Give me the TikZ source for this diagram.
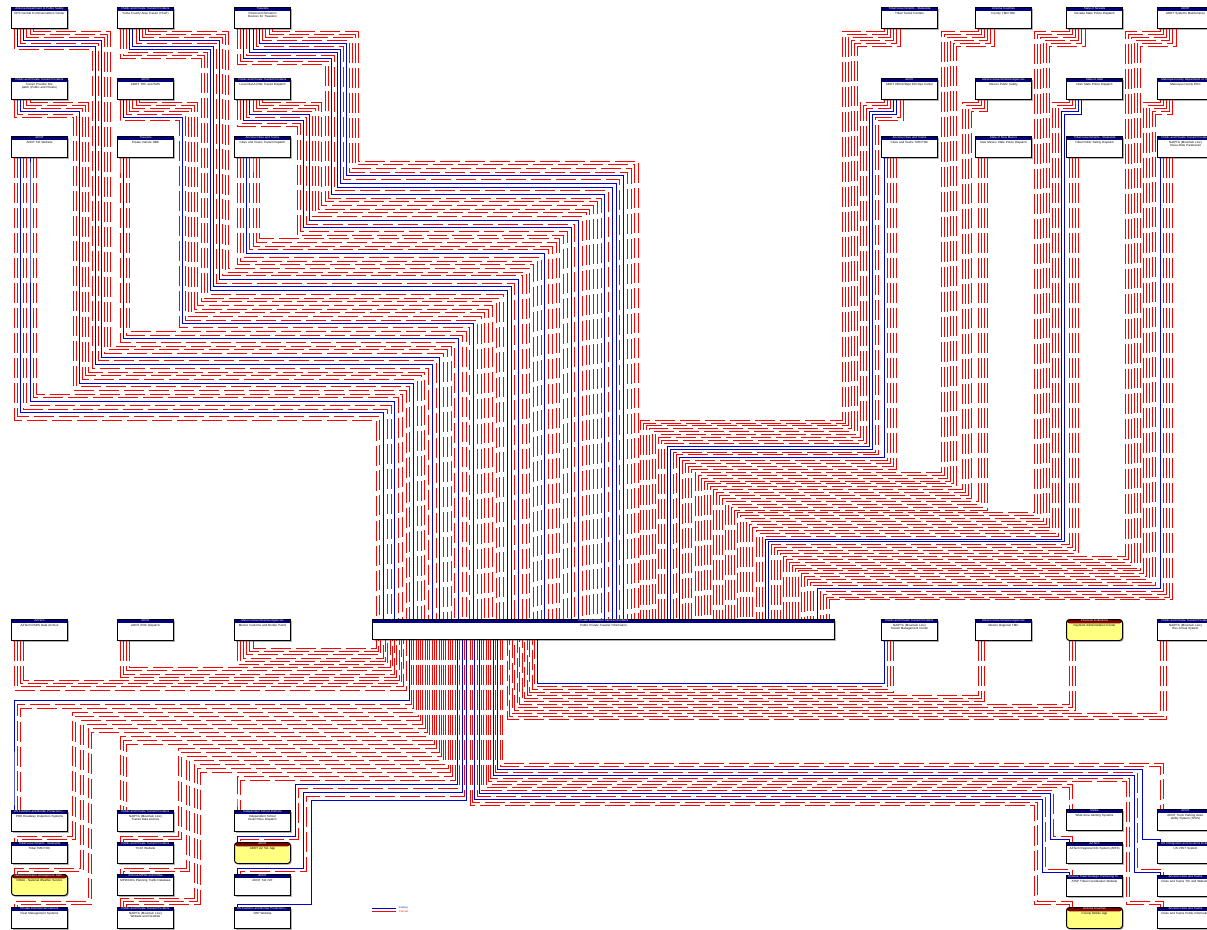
\documentclass[tikz,border=0pt]{standalone}
\usepackage{fontspec}
\setmainfont{Liberation Sans}
\usetikzlibrary{shadows,calc}
\definecolor{hdrblue}{RGB}{0,0,128}
\definecolor{hdrred}{RGB}{128,0,0}
\definecolor{sysyellow}{RGB}{255,255,128}
\definecolor{flowblue}{RGB}{0,0,204}
\definecolor{flowred}{RGB}{255,0,0}
\tikzset{
  fb/.style={draw=flowblue, line width=0.8pt},
  fr/.style={draw=flowred, line width=0.8pt, dash pattern=on 20pt off 5pt},
  sysb/.style={draw=black, line width=1pt, fill=white, minimum width=56pt, minimum height=21pt, inner sep=0pt,
    general shadow={fill=black!30, shadow xshift=1.2pt, shadow yshift=-1.2pt},
    path picture={\fill[hdrblue] (path picture bounding box.north west) rectangle ([yshift=-3.8pt]path picture bounding box.north east);}},
  ysysb/.style={sysb, rounded corners=3pt, fill=sysyellow,
    path picture={\fill[hdrred] (path picture bounding box.north west) rectangle ([yshift=-3.8pt]path picture bounding box.north east);}},
  hdrtxt/.style={inner sep=0pt, text=white, font=\fontsize{3}{3.4}\selectfont},
  bodytxt/.style={anchor=north, inner sep=0pt, text width=53pt, align=center, font=\fontsize{3}{3.5}\selectfont},
  lgtxt/.style={anchor=west, inner sep=0pt, font=\fontsize{2.4}{2.6}\selectfont}
}
\newcommand\sysbox[6][sysb]{%
  \node[#1, anchor=north west] (#2) at (#3,#4) {};
  \node[hdrtxt] (#2-h) at ([yshift=-1.9pt]#2.north) {#5};
  \node[bodytxt] (#2-b) at ([yshift=-4.7pt]#2.north) {#6};
}
% top-left group
\newcommand\TLf[7]{%
 \foreach \j/\st in {#7}{%
  \pgfmathsetmacro\fxs{3+3.2*\j}%
  \pgfmathsetmacro\fxa{#2+\fxs}%
  \pgfmathsetmacro\fyone{#3+3+3*(#4-1-\j)}%
  \pgfmathsetmacro\ftx{(#5<0) ? \fxa : #5+3*\j}%
  \pgfmathsetmacro\fg{#6+\j}%
  \pgfmathsetmacro\flev{420-3.7*\fg}%
  \pgfmathsetmacro\fdd{4+3.75*\fg}%
  \draw[\st] ([xshift=\fxs pt]#1.south west) |- (\ftx,\fyone) |- (372+\fdd,\flev) -- ([xshift=\fdd pt]C.north west);
 }}
% top-right group
\newcommand\TRf[7]{%
 \foreach \j/\st in {#7}{%
  \pgfmathsetmacro\fxs{3+3.2*\j}%
  \pgfmathsetmacro\fxa{#2+\fxs}%
  \pgfmathsetmacro\fyone{#3+3+3*\j}%
  \pgfmathsetmacro\ftx{(#5<0) ? \fxa : #5+3*\j}%
  \pgfmathsetmacro\fg{#6+\j}%
  \pgfmathsetmacro\flev{420+2.9*\fg}%
  \pgfmathsetmacro\fdd{268+3.05*\fg}%
  \draw[\st] ([xshift=\fxs pt]#1.south west) |- (\ftx,\fyone) |- (372+\fdd,\flev) -- ([xshift=\fdd pt]C.north west);
 }}
% middle-left group
\newcommand\MLf[3]{%
 \foreach \j/\st in {#3}{%
  \pgfmathsetmacro\fxs{3+3.2*\j}%
  \pgfmathsetmacro\fg{#2+\j}%
  \pgfmathsetmacro\flev{690-3.2*\fg}%
  \pgfmathsetmacro\fdd{34-2.3*\fg}%
  \draw[\st] ([xshift=\fxs pt]#1.south west) |- (372+\fdd,\flev) -- ([xshift=\fdd pt]C.south west);
 }}
% middle-right group
\newcommand\MRf[3]{%
 \foreach \j/\st in {#3}{%
  \pgfmathsetmacro\fxs{3+3.2*\j}%
  \pgfmathsetmacro\fg{#2+\j}%
  \pgfmathsetmacro\flev{683+3*\fg}%
  \pgfmathsetmacro\fdd{165-2.5*\fg}%
  \draw[\st] ([xshift=\fxs pt]#1.south west) |- (372+\fdd,\flev) -- ([xshift=\fdd pt]C.south west);
 }}
% bottom-left group
\newcommand\BLf[7]{%
 \foreach \j/\st in {#7}{%
  \pgfmathsetmacro\fxs{3+3.2*\j}%
  \pgfmathsetmacro\fxa{#2+\fxs}%
  \pgfmathsetmacro\fyone{#3-3-3*(#4-1-\j)}%
  \pgfmathsetmacro\ftx{(#5<0) ? \fxa : #5+3*\j}%
  \pgfmathsetmacro\fg{#6+\j}%
  \pgfmathsetmacro\flev{700+4*\fg}%
  \pgfmathsetmacro\fdd{37+2.3*\fg}%
  \draw[\st] ([xshift=\fdd pt]C.south west) |- (\ftx,\flev) |- (\fxa,\fyone) -- ([xshift=\fxs pt]#1.north west);
 }}
% bottom-right group
\newcommand\BRf[7]{%
 \foreach \j/\st in {#7}{%
  \pgfmathsetmacro\fxs{3+3.2*\j}%
  \pgfmathsetmacro\fxa{#2+\fxs}%
  \pgfmathsetmacro\fyone{#3-3-3*\j}%
  \pgfmathsetmacro\ftx{(#5<0) ? \fxa : #5+3*\j}%
  \pgfmathsetmacro\fg{#6+\j}%
  \pgfmathsetmacro\flev{805-3*\fg}%
  \pgfmathsetmacro\fdd{98+2.3*\fg}%
  \draw[\st] ([xshift=\fdd pt]C.south west) |- (\ftx,\flev) |- (\fxa,\fyone) -- ([xshift=\fxs pt]#1.north west);
 }}
\begin{document}
\begin{tikzpicture}[x=1pt,y=-1pt]
\fill[white] (0,0) rectangle (1207,929);
\useasboundingbox (0,0) rectangle (1207,929);

% ---------- center node
\node[sysb, minimum width=462pt, minimum height=20pt, anchor=north west] (C) at (372,619) {};
\node[hdrtxt] (C-h) at ([yshift=-1.9pt]C.north) {Private Information Service Providers};
\node[bodytxt, text width=300pt] (C-b) at ([yshift=-4.7pt]C.north) {Public Private Traveler Information};

% ---------- top-left nodes
\sysbox{dps}{11}{7}{Arizona Department of Public Safety}{DPS Central Communications Center}
\sysbox{ycat}{117}{7}{Public and Private Transit Providers}{Yuma County Area Transit (YCAT)}
\sysbox{pid}{234}{7}{Travelers}{Personal Information Devices for Travelers}
\sysbox{tpd}{11}{78}{Public and Private Transit Providers}{Transit Provider Dispatch (Public and Private)}
\sysbox{toc}{117}{78}{ADOT}{ADOT TOC and EMS}
\sysbox{dar}{234}{78}{Public and Private Transit Providers}{Local Dial-A-Ride Transit Dispatch}
\sysbox{wfive}{11}{136}{ADOT}{ADOT 511 Website}
\sysbox{obe}{117}{136}{Travelers}{Private Vehicle OBE}
\sysbox{ctd}{234}{136}{Arizona Cities and Towns}{Cities and Towns Transit Dispatch}

% ---------- top-right nodes
\sysbox{ttc}{881}{7}{Tribal Governments - Statewide}{Tribal Transit Centers}
\sysbox{ctmc}{975}{7}{Arizona Counties}{County TMC/TOC}
\sysbox{nvp}{1066}{7}{State of Nevada}{Nevada State Police Dispatch}
\sysbox{asm}{1157}{7}{ADOT}{ADOT Systems Maintenance}
\sysbox{deoc}{881}{78}{ADOT}{ADOT DEOC/Dept EM Ops Center}
\sysbox{mps}{975}{78}{Mexico Governmental Agencies}{Mexico Public Safety}
\sysbox{utp}{1066}{78}{State of Utah}{Utah State Police Dispatch}
\sysbox{mceoc}{1157}{78}{Maricopa County Department of Tr...}{Maricopa County EOC}
\sysbox{cttmc}{881}{136}{Arizona Cities and Towns}{Cities and Towns TMC/TOC}
\sysbox{nmp}{975}{136}{State of New Mexico}{New Mexico State Police Dispatch}
\sysbox{tps}{1066}{136}{Tribal Governments - Statewide}{Tribal Public Safety Dispatch}
\sysbox{npara}{1157}{136}{Public and Private Transit Providers}{NAIPTA (Mountain Line) Dial-a-Ride Paratransit}

% ---------- middle row
\sysbox{rads}{11}{619}{AZTech}{AZTech RADS Data Archive}
\sysbox{eocd}{117}{619}{ADOT}{ADOT EOC Dispatch}
\sysbox{mcbp}{234}{619}{Mexico Governmental Agencies}{Mexico Customs and Border Patrol}
\sysbox{ntmc}{881}{619}{Public and Private Transit Providers}{NAIPTA (Mountain Line) Transit Management Center}
\sysbox{mrtmc}{975}{619}{Mexico Governmental Agencies}{Mexico Regional TMC}
\sysbox[ysysb]{pay}{1066}{619}{Financial Institutions}{Payment Administration Center}
\sysbox{narr}{1157}{619}{Public and Private Transit Providers}{NAIPTA (Mountain Line) Bus Arrival System}

% ---------- bottom-left nodes
\sysbox{poe}{11}{810}{US Customs and Border Protection (...}{POE Roadway Inspection Systems}
\sysbox{ttmc}{11}{842}{Tribal Governments - Statewide}{Tribal TMC/TOC}
\sysbox[ysysb]{noaa}{11}{874}{National Oceanic Atmospheric Adm...}{NOAA - National Weather Service}
\sysbox{fleet}{11}{907}{Private Commercial Carriers}{Fleet Management Systems}
\sysbox{nda}{117}{810}{Public and Private Transit Providers}{NAIPTA (Mountain Line) Transit Data Archive}
\sysbox{yweb}{117}{842}{Public and Private Transit Providers}{YCAT Website}
\sysbox{mpo}{117}{874}{Arizona MPOs and COGs}{MPO/COG Planning Traffic Database}
\sysbox{nweb}{117}{907}{Public and Private Transit Providers}{NAIPTA (Mountain Line) Website and FlexRide}
\sysbox{isd}{234}{810}{Independent School Districts}{Independent School District Bus Dispatch}
\sysbox[ysysb]{app}{234}{842}{ADOT}{ADOT AZ 511 App}
\sysbox{ivr}{234}{874}{ADOT}{ADOT 511 IVR}
\sysbox{cbp}{234}{907}{US Customs and Border Protection (...}{CBP Website}

% ---------- bottom-right nodes
\sysbox{waa}{1066}{809}{Media}{Wide Area Alerting Systems}
\sysbox{aris}{1066}{842}{AZTech}{AZTech Regional Info System (ARIS)}
\sysbox{atsp}{1066}{875}{Arizona Tribal Strategic Partnering Te...}{ATSP Tribal Coordination Website}
\sysbox[ysysb]{capp}{1066}{907}{Arizona Counties}{County Mobile App}
\sysbox{tpas}{1157}{809}{ADOT}{ADOT Truck Parking Availability System (TPAS)}
\sysbox{visit}{1157}{842}{US Immigration and Customs Enfo...}{US VISIT System}
\sysbox{ctic}{1157}{875}{Arizona Cities and Towns}{Cities and Towns TIC and Websites}
\sysbox{cpi}{1157}{907}{Arizona Cities and Towns}{Cities and Towns Public Information}

% ---------- flows: top-left
\TLf{wfive}{11}{157}{8}{-1}{0}{0/fr,1/fr,2/fb,3/fr,4/fr,5/fb,6/fr,7/fr}
\TLf{tpd}{11}{99}{6}{73}{8}{0/fr,1/fr,2/fb,3/fr,4/fr,5/fr}
\TLf{dps}{11}{28}{7}{92}{14}{0/fr,1/fb,2/fr,3/fb,4/fr,5/fr,6/fr}
\TLf{obe}{117}{157}{4}{-1}{21}{0/fr,1/fb,2/fr,3/fr}
\TLf{toc}{117}{99}{7}{179}{25}{0/fr,1/fb,2/fr,3/fr,4/fr,5/fr,6/fr}
\TLf{ycat}{117}{28}{10}{201}{32}{0/fr,1/fr,2/fr,3/fb,4/fb,5/fr,6/fb,7/fr,8/fr,9/fr}
\TLf{ctd}{234}{157}{8}{-1}{42}{0/fr,1/fr,2/fr,3/fb,4/fr,5/fr,6/fr,7/fr}
\TLf{dar}{234}{99}{9}{297}{50}{0/fr,1/fr,2/fb,3/fr,4/fb,5/fr,6/fr,7/fr,8/fr}
\TLf{pid}{234}{28}{12}{325}{59}{0/fr,1/fr,2/fb,3/fr,4/fb,5/fb,6/fr,7/fb,8/fr,9/fr,10/fr,11/fr}

% ---------- flows: top-right
\TRf{ttc}{881}{28}{6}{842}{0}{0/fr,1/fr,2/fr,3/fr,4/fr,5/fr}
\TRf{deoc}{881}{99}{7}{860}{6}{0/fr,1/fr,2/fr,3/fb,4/fb,5/fr,6/fr}
\TRf{cttmc}{881}{157}{5}{-1}{13}{0/fb,1/fr,2/fr,3/fr,4/fr}
\TRf{ctmc}{975}{28}{6}{941}{18}{0/fr,1/fr,2/fr,3/fr,4/fr,5/fr}
\TRf{mps}{975}{99}{4}{962}{24}{0/fr,1/fr,2/fr,3/fr}
\TRf{nmp}{975}{157}{4}{-1}{28}{0/fr,1/fr,2/fr,3/fr}
\TRf{nvp}{1066}{28}{6}{1034}{32}{0/fr,1/fr,2/fr,3/fr,4/fr,5/fr}
\TRf{utp}{1066}{99}{5}{1052}{38}{0/fr,1/fr,2/fr,3/fb,4/fb}
\TRf{tps}{1066}{157}{4}{-1}{43}{0/fr,1/fr,2/fr,3/fr}
\TRf{asm}{1157}{28}{6}{1125}{47}{0/fr,1/fr,2/fr,3/fr,4/fr,5/fr}
\TRf{mceoc}{1157}{99}{5}{1143}{53}{0/fr,1/fr,2/fr,3/fr,4/fr}
\TRf{npara}{1157}{157}{5}{-1}{58}{0/fb,1/fr,2/fr,3/fr,4/fr}

% ---------- flows: middle
\MLf{rads}{0}{0/fr,1/fr,2/fr,3/fr}
\MLf{eocd}{4}{0/fr,1/fr,2/fr,3/fr}
\MLf{mcbp}{8}{0/fr,1/fr,2/fr,3/fr,4/fr,5/fr}
\MRf{ntmc}{0}{0/fb,1/fr,2/fr,3/fr}
\MRf{mrtmc}{4}{0/fr,1/fr,2/fr}
\MRf{pay}{7}{0/fr,1/fr,2/fr}
\MRf{narr}{10}{0/fr,1/fr,2/fr}

% ---------- flows: bottom-left
\BLf{poe}{11}{810}{3}{-1}{0}{0/fb,1/fr,2/fr}
\BLf{ttmc}{11}{842}{2}{72}{3}{0/fr,1/fr}
\BLf{noaa}{11}{874}{2}{80}{5}{0/fr,1/fr}
\BLf{fleet}{11}{907}{2}{88}{7}{0/fr,1/fr}
\BLf{nda}{117}{810}{3}{-1}{9}{0/fr,1/fr,2/fr}
\BLf{yweb}{117}{842}{2}{178}{12}{0/fr,1/fr}
\BLf{mpo}{117}{874}{2}{186}{14}{0/fr,1/fr}
\BLf{nweb}{117}{907}{3}{194}{16}{0/fr,1/fr,2/fr}
\BLf{isd}{234}{810}{2}{-1}{19}{0/fr,1/fr}
\BLf{app}{234}{842}{2}{295}{21}{0/fb,1/fr}
\BLf{ivr}{234}{874}{2}{303}{23}{0/fb,1/fr}
\BLf{cbp}{234}{907}{1}{311}{25}{0/fb}

% ---------- flows: bottom-right
\BRf{capp}{1066}{907}{2}{1034}{0}{0/fr,1/fr}
\BRf{atsp}{1066}{875}{2}{1042}{2}{0/fb,1/fr}
\BRf{aris}{1066}{842}{2}{1050}{4}{0/fb,1/fr}
\BRf{waa}{1066}{809}{2}{-1}{6}{0/fr,1/fr}
\BRf{cpi}{1157}{907}{2}{1126}{8}{0/fr,1/fr}
\BRf{ctic}{1157}{875}{2}{1134}{10}{0/fb,1/fr}
\BRf{visit}{1157}{842}{1}{1142}{12}{0/fb}
\BRf{tpas}{1157}{809}{2}{-1}{13}{0/fr,1/fr}

% ---------- legend
\coordinate (lgA) at (372,908);
\coordinate (lgB) at (396,908);
\coordinate (lgC) at (372,911.5);
\coordinate (lgD) at (396,911.5);
\draw[fb] (lgA) -- (lgB);
\draw[draw=flowred, line width=0.8pt] (lgC) -- (lgD);
\node[lgtxt, text=flowblue] (lgE) at (399,908) {Existing};
\node[lgtxt, text=flowred] (lgP) at (399,911.5) {Planned};
\end{tikzpicture}
\end{document}
